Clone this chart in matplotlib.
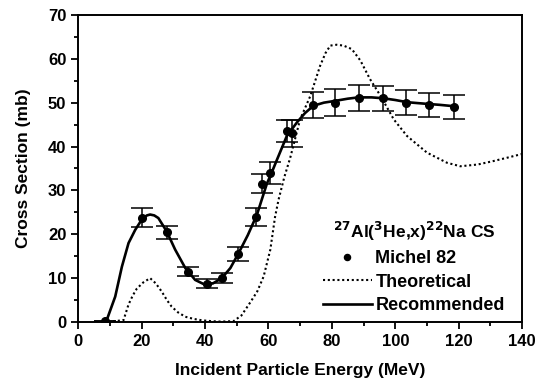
import matplotlib

matplotlib.use("Agg")
import matplotlib.pyplot as plt
from matplotlib.ticker import MultipleLocator

# Michel 82 measured cross sections
exp_energy = [8.5, 20, 28, 34.5, 40.5, 45.5, 50.5, 56, 58, 60.5, 66, 67.5,
              74, 81, 88.5, 96, 103.5, 110.5, 118.5]
exp_cs = [0.2, 23.8, 20.5, 11.5, 8.7, 10.0, 15.5, 24.0, 31.5, 34.0, 43.5, 43.0,
          49.5, 50.0, 51.0, 51.0, 50.0, 49.5, 49.0]
exp_err = [0.0, 2.1, 1.5, 1.0, 1.0, 1.2, 1.5, 2.0, 2.2, 2.5, 2.5, 3.0,
           3.0, 3.0, 3.0, 2.9, 2.9, 2.8, 2.7]

# theoretical curve
theo_energy = [8, 14.3, 15.9, 17.2, 18.5, 20.5, 22.7, 24.5, 26.4, 28, 29.5,
               31.5, 33.8, 36.5, 39, 42, 45, 49, 51.5, 54.3, 56.5, 58.5,
               60.6, 62.1, 63.2, 65, 66.9, 70, 73.2, 76.3, 78, 79.5, 81.5,
               83.7, 86.3, 89, 92, 95.3, 99.5, 103.7, 110, 116.3, 120.5,
               126, 131, 135, 139.4, 140]
theo_cs = [0, 0.4, 4.0, 6.0, 7.6, 9.0, 10.0, 8.8, 6.9, 5.0, 3.5, 2.2, 1.2,
           0.7, 0.4, 0.2, 0.1, 0.2, 1.5, 4.5, 7.0, 10.4, 16.5, 24.0, 27.9,
           33.0, 37.5, 46.2, 51.5, 58.4, 61.3, 63.0, 63.2, 63.0, 62.2,
           59.6, 55.4, 51.6, 46.2, 42.4, 38.6, 36.3, 35.5, 35.9, 36.7,
           37.4, 38.2, 38.3]

# recommended curve
rec_energy = [9.0, 11.7, 13.8, 15.9, 18.0, 19.5, 20.6, 21.7, 22.7, 24.0,
              25.3, 27.9, 30.6, 33.8, 36.9, 40.0, 42.5, 45.3, 48.0, 50.6,
              53.5, 56.4, 57.9, 59.5, 61.0, 62.7, 65.8, 69.0, 71.5, 74.2,
              77.5, 81.0, 85.0, 88.4, 92.5, 96.2, 100.0, 103.8, 107.0,
              110.4, 114.0, 118.3]
rec_cs = [0.4, 5.8, 12.6, 18.0, 21.0, 22.7, 23.7, 24.3, 24.5, 24.3, 23.7,
          20.7, 16.5, 12.3, 9.6, 8.5, 8.8, 10.0, 12.3, 15.7, 19.8, 24.5,
          27.9, 31.5, 34.0, 37.0, 42.4, 45.5, 47.6, 49.3, 50.0, 50.4, 50.9,
          51.2, 51.2, 51.0, 50.6, 50.1, 49.9, 49.7, 49.5, 49.2]

plt.rcParams["font.family"] = ["Liberation Sans", "DejaVu Sans"]
plt.rcParams["font.weight"] = "bold"
plt.rcParams["axes.labelweight"] = "bold"

fig = plt.figure(figsize=(5.35, 3.82), dpi=100)
ax = fig.add_axes([0.146, 0.157, 0.83, 0.804])

ax.plot(theo_energy, theo_cs, color="black", linestyle=(0, (1, 1.3)),
        linewidth=1.5, label="Theoretical")
ax.plot(rec_energy, rec_cs, color="black", linewidth=1.9, label="Recommended")
ax.errorbar(exp_energy, exp_cs, yerr=exp_err, fmt="none", ecolor="black",
            elinewidth=1.1, capsize=8, capthick=1.1)
ax.plot(exp_energy, exp_cs, "o", color="black", markersize=5.5,
        label="Michel 82")

ax.set_xlim(0, 140)
ax.set_ylim(0, 70)
ax.xaxis.set_major_locator(MultipleLocator(20))
ax.xaxis.set_minor_locator(MultipleLocator(10))
ax.yaxis.set_major_locator(MultipleLocator(10))
ax.yaxis.set_minor_locator(MultipleLocator(5))
ax.tick_params(which="both", direction="out", top=False, right=False,
               labelsize=12, width=1.3)
ax.tick_params(which="major", length=5)
ax.tick_params(which="minor", length=3)
for s in ax.spines.values():
    s.set_linewidth(1.4)

ax.set_xlabel("Incident Particle Energy (MeV)", fontsize=12.5, labelpad=10)
ax.set_ylabel("Cross Section (mb)", fontsize=12.5, labelpad=12)

handles, labels = ax.get_legend_handles_labels()
order = [2, 0, 1]
leg = ax.legend([handles[i] for i in order], [labels[i] for i in order],
                title=r"$^{27}$Al($^{3}$He,x)$^{22}$Na CS",
                loc="lower right", bbox_to_anchor=(0.985, -0.01),
                frameon=False, fontsize=13, title_fontsize=12.5,
                handlelength=2.7, handletextpad=0.2, labelspacing=0.37,
                borderaxespad=0.2, markerscale=0.8)
leg.get_title().set_fontweight("bold")

fig.savefig("out.png", dpi=100)
